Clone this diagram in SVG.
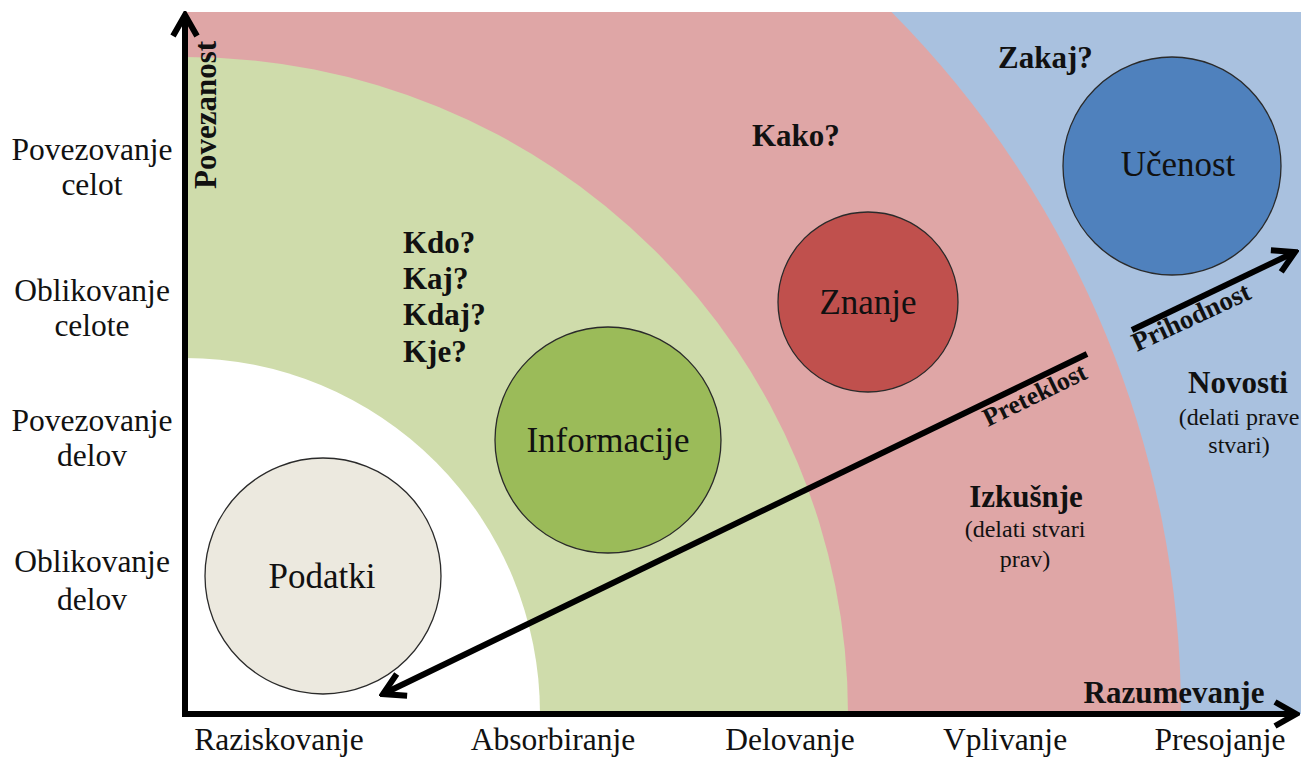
<svg xmlns="http://www.w3.org/2000/svg" width="1301" height="757" viewBox="0 0 1301 757">
  <style>
    .lbl { font-family: "Liberation Serif", "Times New Roman", serif; fill: #111; }
    .axis { font-size: 31.5px; text-anchor: middle; }
    .q { font-size: 31px; font-weight: bold; }
    .node { font-size: 35px; text-anchor: middle; }
    .note { font-size: 24px; text-anchor: middle; }
    .head { font-size: 31px; font-weight: bold; text-anchor: middle; }
    .circ { stroke: #2a2a2a; stroke-width: 1.3; }
    .conn { stroke: #000; stroke-width: 6; fill: none; }
  </style>
  <defs>
    <marker id="chev" markerUnits="userSpaceOnUse" viewBox="-30 -16 34 32" markerWidth="34" markerHeight="32" refX="0" refY="0" orient="auto">
      <path d="M-21,-12 L0,0 L-21,12" fill="none" stroke="#000" stroke-width="6" stroke-linejoin="miter"/>
    </marker>
  </defs>

  <rect width="1301" height="757" fill="#ffffff"/>

  <!-- concentric bands around the origin -->
  <g id="bands">
    <rect x="185" y="12" width="1116" height="702" fill="#A9C1DF"/>
    <path d="M185,714 L185,12 L891.5,12 A996,996 0 0 1 1181,714 Z" fill="#DFA6A6"/>
    <path d="M185,714 L185,57 A663,657 0 0 1 848,714 Z" fill="#CFDCAB"/>
    <path d="M185,714 L185,358 A355,356 0 0 1 540,714 Z" fill="#ffffff"/>
  </g>

  <!-- y-axis level labels -->
  <g id="y-labels" class="lbl axis">
    <text x="92" y="160">Povezovanje</text>
    <text x="92" y="195">celot</text>
    <text x="92" y="301">Oblikovanje</text>
    <text x="92" y="336">celote</text>
    <text x="92" y="431">Povezovanje</text>
    <text x="92" y="466">delov</text>
    <text x="92" y="572">Oblikovanje</text>
    <text x="92" y="610">delov</text>
  </g>

  <!-- x-axis level labels -->
  <g id="x-labels" class="lbl axis">
    <text x="279" y="750">Raziskovanje</text>
    <text x="553" y="750">Absorbiranje</text>
    <text x="790" y="750">Delovanje</text>
    <text x="1005" y="750">Vplivanje</text>
    <text x="1220" y="750">Presojanje</text>
  </g>

  <!-- axes and arrows -->
  <g id="connectors">
    <line class="conn" x1="185" y1="717" x2="185" y2="15" marker-end="url(#chev)"/>
    <line class="conn" x1="182" y1="714" x2="1296" y2="714" marker-end="url(#chev)"/>
    <line class="conn" x1="1087" y1="354" x2="383" y2="694" marker-end="url(#chev)"/>
    <line class="conn" x1="1132" y1="330" x2="1295" y2="252" marker-end="url(#chev)"/>
  </g>

  <g id="axis-titles" class="lbl">
    <text class="head" transform="translate(216,115) rotate(-90)">Povezanost</text>
    <text class="head" x="1174" y="703">Razumevanje</text>
  </g>

  <g id="node-podatki">
    <circle class="circ" cx="323" cy="576" r="118" fill="#ECE9DF"/>
    <text class="lbl node" x="322" y="588">Podatki</text>
  </g>

  <g id="node-informacije">
    <circle class="circ" cx="608" cy="440" r="113" fill="#9BBB59"/>
    <text class="lbl node" x="608" y="452">Informacije</text>
    <g class="lbl q">
      <text x="403" y="253">Kdo?</text>
      <text x="403" y="289">Kaj?</text>
      <text x="403" y="325">Kdaj?</text>
      <text x="403" y="362">Kje?</text>
    </g>
  </g>

  <g id="node-znanje">
    <circle class="circ" cx="868" cy="302" r="90" fill="#C0504D"/>
    <text class="lbl node" x="868" y="314">Znanje</text>
    <text class="lbl q" x="752" y="146">Kako?</text>
  </g>

  <g id="node-ucenost">
    <circle class="circ" cx="1172" cy="166" r="109" fill="#4F81BD"/>
    <text class="lbl node" x="1178" y="176">Učenost</text>
    <text class="lbl q" x="998" y="68">Zakaj?</text>
  </g>

  <g id="izkusnje" class="lbl">
    <text class="head" x="1026" y="507">Izkušnje</text>
    <text class="note" x="1025" y="537">(delati stvari</text>
    <text class="note" x="1025" y="567">prav)</text>
  </g>

  <g id="novosti" class="lbl">
    <text class="head" x="1238" y="393">Novosti</text>
    <text class="note" x="1239" y="425">(delati prave</text>
    <text class="note" x="1239" y="453">stvari)</text>
  </g>

  <g id="time-labels" class="lbl">
    <text font-size="26" font-weight="bold" transform="translate(988,427) rotate(-26)">Preteklost</text>
    <text font-size="27" font-weight="bold" transform="translate(1137,352) rotate(-25)">Prihodnost</text>
  </g>
</svg>
